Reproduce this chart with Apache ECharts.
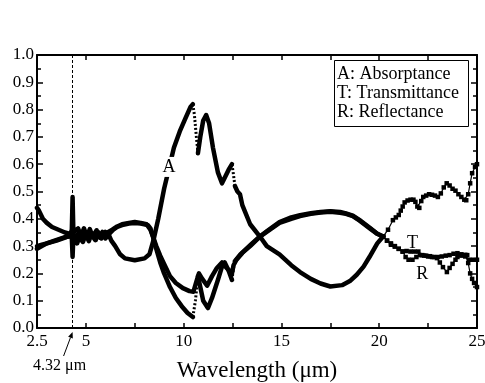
<!DOCTYPE html>
<html>
<head>
<meta charset="utf-8">
<script src="https://cdn.jsdelivr.net/npm/echarts@6/dist/echarts.min.js"></script>
<style>
  html, body { margin: 0; padding: 0; background: #fff; }
  #chart { width: 485px; height: 383px; }
</style>
</head>
<body>
<div id="chart"></div>
<script>
// Absorptance (A)
const absX = [2.5,2.75,3.0,3.5,4.0,4.2,4.28,4.32,4.36,4.45,4.6,4.75,4.9,5.05,5.2,5.35,5.55,5.7,5.85,6.0,6.15,6.3,6.5,6.75,7.0,7.5,8.0,8.25,8.45,8.7,9.0,9.3,9.5,9.8,10.1,10.35,10.47,10.55,10.65,10.73,10.85,11.0,11.15,11.3,11.5,11.75,11.96,12.1,12.3,12.47,12.55,12.62,12.75,12.88,13.0,13.4,13.9,14.25,14.9,15.5,15.95,16.5,17.0,17.5,18.1,18.5,18.85,19.2,19.5,19.9,20.2,20.45,20.7,20.85,21.0,21.1,21.2,21.3,21.45,21.6,21.75,21.85,21.95,22.05,22.15,22.25,22.4,22.55,22.7,22.85,23.0,23.15,23.3,23.45,23.6,23.75,23.9,24.05,24.2,24.35,24.45,24.55,24.65,24.75,24.9,25.0];
const absY = [0.30,0.305,0.31,0.32,0.333,0.34,0.36,0.48,0.35,0.345,0.365,0.335,0.365,0.335,0.362,0.335,0.358,0.332,0.352,0.328,0.345,0.32,0.30,0.27,0.255,0.248,0.255,0.27,0.32,0.40,0.51,0.60,0.66,0.72,0.77,0.81,0.82,0.78,0.70,0.64,0.70,0.76,0.78,0.75,0.66,0.57,0.53,0.55,0.58,0.60,0.56,0.52,0.50,0.49,0.45,0.38,0.335,0.30,0.27,0.23,0.205,0.18,0.163,0.152,0.157,0.172,0.195,0.225,0.26,0.31,0.335,0.36,0.395,0.405,0.414,0.43,0.445,0.46,0.467,0.47,0.47,0.462,0.445,0.44,0.465,0.48,0.485,0.49,0.488,0.485,0.48,0.493,0.515,0.53,0.522,0.51,0.503,0.49,0.48,0.47,0.468,0.49,0.53,0.567,0.59,0.60];

// Transmittance (T)
const traX = [2.5,2.6,2.8,3.0,3.27,3.6,3.93,4.2,4.28,4.32,4.36,4.45,4.55,4.7,4.85,5.0,5.15,5.3,5.5,5.65,5.8,6.0,6.2,6.4,6.6,6.85,7.2,7.5,7.8,8.17,8.3,8.43,8.6,8.8,9.0,9.3,9.6,9.9,10.2,10.47,10.6,10.73,10.85,11.0,11.24,11.45,11.75,11.96,12.1,12.3,12.47,12.55,12.62,12.9,13.2,13.5,13.9,14.3,14.9,15.5,15.95,16.5,17.0,17.5,18.0,18.3,18.65,19.0,19.5,19.9,20.2,20.4,20.6,20.8,21.0,21.2,21.4,21.6,21.8,22.0,22.2,22.4,22.6,22.8,23.0,23.2,23.4,23.6,23.8,24.0,24.2,24.4,24.6,24.8,25.0];
const traY = [0.44,0.43,0.40,0.385,0.37,0.36,0.35,0.345,0.33,0.26,0.335,0.34,0.31,0.34,0.315,0.345,0.318,0.348,0.322,0.35,0.328,0.352,0.345,0.36,0.37,0.377,0.383,0.385,0.383,0.377,0.365,0.335,0.29,0.24,0.20,0.15,0.11,0.08,0.055,0.04,0.10,0.19,0.15,0.10,0.073,0.11,0.176,0.225,0.24,0.21,0.176,0.22,0.245,0.27,0.29,0.31,0.335,0.355,0.385,0.40,0.41,0.418,0.423,0.426,0.422,0.418,0.41,0.393,0.366,0.345,0.335,0.32,0.31,0.30,0.29,0.28,0.282,0.28,0.28,0.28,0.267,0.265,0.263,0.26,0.26,0.262,0.265,0.267,0.272,0.274,0.27,0.262,0.25,0.25,0.25];

// Reflectance (R)
const refX = [2.5,2.75,3.0,3.4,3.93,4.2,4.32,4.45,4.6,4.75,4.95,5.1,5.25,5.45,5.6,5.75,5.95,6.1,6.35,6.6,6.85,7.2,7.5,7.8,8.1,8.3,8.43,8.6,8.8,9.0,9.3,9.6,9.96,10.3,10.5,10.65,10.78,10.95,11.2,11.45,11.7,11.96,12.2,12.47,12.55,12.7,13.0,13.4,13.9,14.3,14.9,15.5,15.95,16.5,17.0,17.5,18.0,18.3,18.65,19.0,19.5,19.9,20.2,20.4,20.6,20.8,21.0,21.2,21.35,21.5,21.7,21.9,22.08,22.3,22.5,22.7,22.95,23.1,23.26,23.46,23.6,23.75,23.9,24.0,24.2,24.4,24.5,24.55,24.65,24.75,24.85,25.0];
const refY = [0.29,0.30,0.31,0.32,0.333,0.335,0.35,0.33,0.345,0.322,0.35,0.328,0.348,0.325,0.347,0.33,0.345,0.35,0.36,0.372,0.38,0.385,0.388,0.385,0.38,0.36,0.335,0.30,0.265,0.235,0.19,0.165,0.146,0.135,0.133,0.17,0.20,0.18,0.155,0.19,0.22,0.24,0.22,0.20,0.23,0.25,0.275,0.30,0.335,0.357,0.388,0.405,0.413,0.42,0.425,0.428,0.425,0.42,0.412,0.395,0.368,0.345,0.335,0.32,0.305,0.298,0.29,0.28,0.26,0.25,0.25,0.26,0.267,0.265,0.262,0.26,0.256,0.24,0.223,0.205,0.22,0.235,0.25,0.26,0.265,0.268,0.267,0.238,0.2,0.18,0.165,0.15];

// Wavelength ranges where the scan was sampled sparsely (steep jumps), per curve
const absSparseRanges = [[10.47, 10.73], [12.47, 12.62]];
const traSparseRanges = [[10.47, 10.73], [12.47, 12.62]];
const refSparseRanges = [];

// Axis ticks and labels
const xLabelValues = [2.5, 5, 10, 15, 20, 25];
const xTickValues = [5, 7.5, 10, 12.5, 15, 17.5, 20, 22.5];
const co2Band = 4.32;          // dashed marker, μm
const sparseFrom = 20.2;       // beyond here the measurement points are drawn individually

// Curve label anchors [x, y] in data units
const curveLabels = [
  { text: 'A', at: [9.25, 0.59], bg: true },
  { text: 'T', at: [21.7, 0.31], bg: false },
  { text: 'R', at: [22.2, 0.195], bg: false }
];

const SERIF = 'Liberation Serif';

const inRange = (x, r) => x > r[0] && x < r[1];
const inAny = (x, ranges) => ranges.some(r => inRange(x, r));

// Dense part: everything up to sparseFrom, broken across the sparse ranges
function densePart(xs, ys, ranges) {
  const out = [];
  for (let i = 0; i < xs.length; i++) {
    const x = xs[i];
    if (x > sparseFrom) continue;
    if (inAny(x, ranges)) continue;
    const prev = out.length ? out[out.length - 1] : null;
    if (prev && prev[1] !== '-' && ranges.some(r => prev[0] <= r[0] && x >= r[1])) {
      out.push([(prev[0] + x) / 2, '-']);
    }
    out.push([x, ys[i]]);
  }
  return out;
}

// Sparse jumps inside the dense part, drawn dotted
function jumpPart(xs, ys, ranges) {
  const out = [];
  ranges.forEach((r, k) => {
    if (k > 0) out.push([r[0] - 0.01, '-']);
    for (let i = 0; i < xs.length; i++) {
      if (xs[i] >= r[0] && xs[i] <= r[1]) out.push([xs[i], ys[i]]);
    }
  });
  return out;
}

function tailPart(xs, ys) {
  const out = [];
  for (let i = 0; i < xs.length; i++) if (xs[i] >= sparseFrom) out.push([xs[i], ys[i]]);
  return out;
}

function curveSeries(name, xs, ys, ranges) {
  const list = [
    {
      name: name, type: 'line', xAxisIndex: 0, yAxisIndex: 0,
      data: densePart(xs, ys, ranges), connectNulls: false,
      showSymbol: false, symbol: 'none',
      lineStyle: { color: '#000', width: 4.5, join: 'round', cap: 'round' },
      z: 3, silent: true
    },
    {
      name: name + ' (sparse)', type: 'line', xAxisIndex: 0, yAxisIndex: 0,
      data: tailPart(xs, ys),
      showSymbol: true, symbol: 'rect', symbolSize: 4.5,
      itemStyle: { color: '#000' },
      lineStyle: { color: '#000', width: 1.2 },
      z: 3, silent: true
    }
  ];
  if (ranges.length) {
    list.push({
      name: name + ' (jumps)', type: 'line', xAxisIndex: 0, yAxisIndex: 0,
      data: jumpPart(xs, ys, ranges), connectNulls: false,
      showSymbol: false, symbol: 'none',
      lineStyle: { color: '#000', width: 3, type: [2, 2] },
      z: 3, silent: true
    });
  }
  return list;
}

const chart = echarts.init(document.getElementById('chart'), null, { renderer: 'canvas' });

const axisLine = { show: true, onZero: false, lineStyle: { color: '#000', width: 2 } };
const tickStyle = { color: '#000', width: 1.5 };

const series = [].concat(
  curveSeries('A', absX, absY, absSparseRanges),
  curveSeries('T', traX, traY, traSparseRanges),
  curveSeries('R', refX, refY, refSparseRanges)
);
series[0].markLine = {
  silent: true, symbol: 'none', animation: false,
  label: { show: false },
  lineStyle: { color: '#000', type: [3, 2], width: 1 },
  data: [{ xAxis: co2Band }]
};

chart.setOption({
  animation: false,
  backgroundColor: '#fff',
  grid: { left: 37, right: 8, top: 55, bottom: 55, containLabel: false, outerBoundsMode: 'none' },
  xAxis: [
    {
      type: 'value', position: 'bottom', min: 2.5, max: 25,
      axisLine: axisLine,
      axisTick: { show: true, inside: true, length: 5, customValues: xTickValues, lineStyle: tickStyle },
      axisLabel: {
        show: true, customValues: xLabelValues, color: '#000',
        fontFamily: SERIF, fontSize: 17, margin: 5,
        formatter: v => (v === 2.5 ? '2.5' : String(Math.round(v)))
      },
      splitLine: { show: false },
      name: 'Wavelength (\u03bcm)', nameLocation: 'middle', nameGap: 31,
      nameTextStyle: { color: '#000', fontFamily: SERIF, fontSize: 23 }
    },
    {
      type: 'value', position: 'top', min: 2.5, max: 25,
      axisLine: axisLine,
      axisTick: { show: true, inside: true, length: 5, customValues: xTickValues, lineStyle: tickStyle },
      axisLabel: { show: false },
      splitLine: { show: false }
    }
  ],
  yAxis: [
    {
      type: 'value', position: 'left', min: 0, max: 1, interval: 0.1,
      axisLine: axisLine,
      axisTick: { show: true, inside: true, length: 6, lineStyle: tickStyle },
      minorTick: { show: true, splitNumber: 2, length: 4, lineStyle: tickStyle },
      axisLabel: {
        color: '#000', fontFamily: SERIF, fontSize: 17, margin: 3,
        formatter: v => v.toFixed(1)
      },
      splitLine: { show: false }
    },
    {
      type: 'value', position: 'right', min: 0, max: 1, interval: 0.1,
      axisLine: axisLine,
      axisTick: { show: true, inside: true, length: 6, lineStyle: tickStyle },
      minorTick: { show: true, splitNumber: 2, length: 4, lineStyle: tickStyle },
      axisLabel: { show: false },
      splitLine: { show: false }
    }
  ],
  series: series
});

// Annotations placed through the axes' own scales
const toPx = p => chart.convertToPixel({ xAxisIndex: 0, yAxisIndex: 0 }, p);
const basePx = toPx([co2Band, 0]);
const tipX = basePx[0], tipY = basePx[1] + 4;
const tailX = tipX - 9, tailY = tipY + 24;
const ang = Math.atan2(tipY - tailY, tipX - tailX);
const headLen = 6, headHalf = 2.5;
const hx = tipX - headLen * Math.cos(ang), hy = tipY - headLen * Math.sin(ang);
const px = -Math.sin(ang) * headHalf, py = Math.cos(ang) * headHalf;

const graphics = [
  {
    type: 'line', z: 10, silent: true,
    shape: { x1: tailX, y1: tailY, x2: hx, y2: hy },
    style: { stroke: '#000', lineWidth: 1 }
  },
  {
    type: 'polygon', z: 10, silent: true,
    shape: { points: [[tipX, tipY], [hx + px, hy + py], [hx - px, hy - py]] },
    style: { fill: '#000' }
  },
  {
    type: 'text', z: 10, silent: true,
    x: tailX - 4, y: tailY + 10,
    style: { text: '4.32 \u03bcm', fill: '#000', font: '16px ' + SERIF, align: 'center', verticalAlign: 'middle' }
  },
  // key box
  {
    type: 'rect', z: 10, silent: true,
    shape: { x: 334.5, y: 60.5, width: 134, height: 66 },
    style: { fill: '#fff', stroke: '#000', lineWidth: 1 }
  }
];

['A: Absorptance', 'T: Transmittance', 'R: Reflectance'].forEach((t, i) => {
  graphics.push({
    type: 'text', z: 11, silent: true,
    x: 337, y: 74.5 + i * 19,
    style: { text: t, fill: '#000', font: '18px ' + SERIF, align: 'left', verticalAlign: 'middle' }
  });
});

curveLabels.forEach(l => {
  const p = toPx(l.at);
  graphics.push({
    type: 'text', z: 11, silent: true,
    x: p[0], y: p[1],
    style: {
      text: l.text, fill: '#000', font: '18px ' + SERIF,
      align: 'center', verticalAlign: 'middle',
      backgroundColor: l.bg ? '#fff' : 'transparent', padding: l.bg ? [1, 1] : 0
    }
  });
});

chart.setOption({ graphic: graphics });
</script>
</body>
</html>
